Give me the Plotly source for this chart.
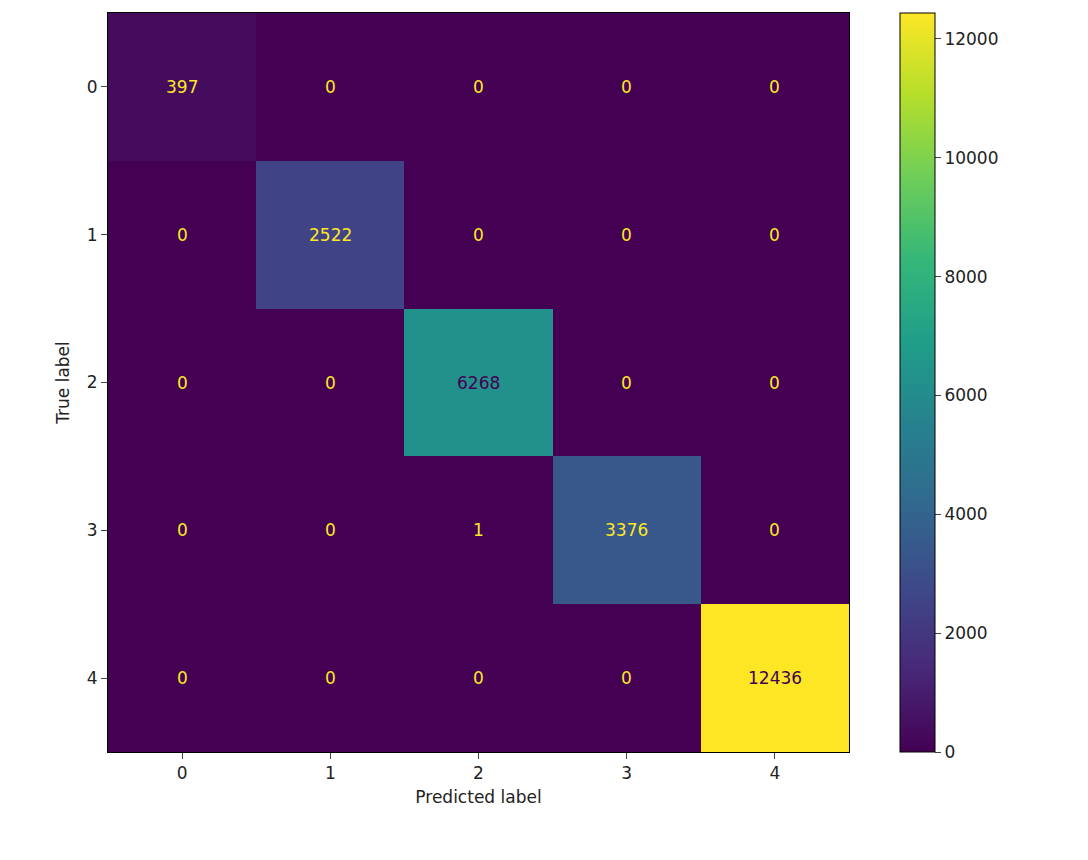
import plotly.graph_objects as go

labels = ["0", "1", "2", "3", "4"]
z = [
    [397, 0, 0, 0, 0],
    [0, 2522, 0, 0, 0],
    [0, 0, 6268, 0, 0],
    [0, 0, 1, 3376, 0],
    [0, 0, 0, 0, 12436],
]
cbar_ticks = [0, 2000, 4000, 6000, 8000, 10000, 12000]

zmax = max(max(r) for r in z)
zmin = min(min(r) for r in z)
thresh = (zmax + zmin) / 2

fig = go.Figure(go.Heatmap(
    z=z, x=list(range(5)), y=list(range(5)),
    colorscale="Viridis", zmin=zmin, zmax=zmax,
    colorbar=dict(x=1.069, xanchor="left", xpad=0, ypad=0, thickness=35, len=1,
                  lenmode="fraction", y=0.5, yanchor="middle",
                  outlinewidth=1, outlinecolor="black",
                  tickvals=cbar_ticks, ticktext=[str(t) for t in cbar_ticks],
                  ticks="outside", ticklen=6,
                  tickfont=dict(size=17, color="#222")),
    hoverinfo="skip",
))

for i, row in enumerate(z):
    for j, v in enumerate(row):
        fig.add_annotation(x=j, y=i, text=str(v), showarrow=False,
                           font=dict(size=17, color="#440154" if v > thresh else "#fde725"))

axis_common = dict(showgrid=False, zeroline=False, ticks="outside", ticklen=6,
                   showline=True, linecolor="black", mirror=True,
                   tickfont=dict(size=17, color="#222"))
fig.update_layout(
    width=1088, height=860,
    margin=dict(l=100, r=247, t=5, b=116),
    plot_bgcolor="white", paper_bgcolor="white",
    font=dict(family="DejaVu Sans", color="#222"),
    xaxis=dict(axis_common, tickvals=list(range(5)), ticktext=labels,
               range=[-0.5, 4.5],
               title=dict(text="Predicted label", font=dict(size=17), standoff=8)),
    yaxis=dict(axis_common, tickvals=list(range(5)), ticktext=labels,
               range=[4.5, -0.5],
               title=dict(text="True label", font=dict(size=17), standoff=12)),
)
fig.write_html("out.html")
